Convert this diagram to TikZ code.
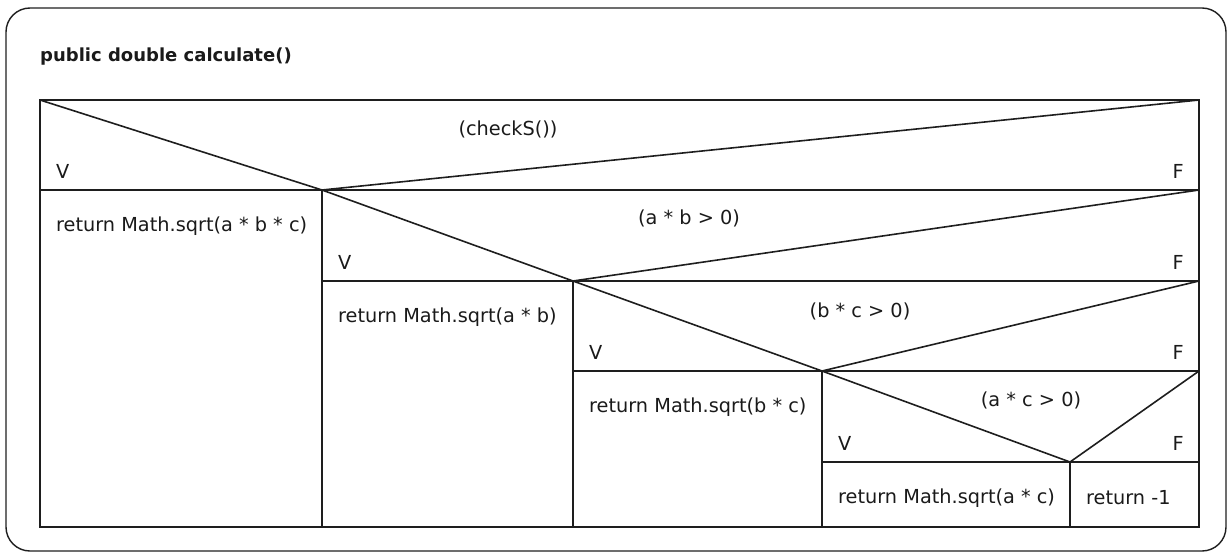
\documentclass[tikz,border=0pt]{standalone}
\usepackage{fontspec}
\setmainfont{DejaVu Sans}
\usepackage{xcolor}
\usepackage{tikz}
\definecolor{nsline}{HTML}{1E1E1E}
\definecolor{nstext}{HTML}{1A1A1A}

\begin{document}
\begin{tikzpicture}[x=1pt, y=-1pt,
  nsrule/.style={nsline, line width=1.6pt},
  nslabel/.style={inner sep=0pt, text=nstext, font=\fontsize{19.3}{22}\selectfont}]
  \useasboundingbox (0,0) rectangle (1231,556);

  % frame and title
  \draw[nsline, line width=1.4pt, rounded corners=24pt] (6,8) rectangle (1226,551);
  \node[nslabel, anchor=west, font=\bfseries\fontsize{18}{22}\selectfont] (title) at (40,57) {public double calculate()};

  % outer box
  \draw[nsrule] (40,100) rectangle (1199,527);

  % decisions: name, left, top, bottom, split, cond x, cond y, condition, return
  \foreach \nm/\xl/\yt/\yb/\xm/\cx/\cy/\cond/\ret in {%
    s/40/100/190/322/508/129/(checkS())/return Math.sqrt(a * b * c),
    ab/322/190/281/573/689/218/(a * b > 0)/return Math.sqrt(a * b),
    bc/573/281/371/822/860/311/(b * c > 0)/return Math.sqrt(b * c),
    ac/822/371/462/1070/1031/400/(a * c > 0)/return Math.sqrt(a * c)}{
      \draw[nsrule] (\xl,\yb) -- (1199,\yb);
      \draw[nsrule] (\xl,\yt) -- (\xm,\yb) -- (1199,\yt);
      \draw[nsrule] (\xm,\yb) -- (\xm,527);
      \node[nslabel] (cond-\nm) at (\cx,\cy) {\cond};
      \node[nslabel, anchor=west] (true-\nm) at (\xl+16,\yb-19) {V};
      \node[nslabel, anchor=east] (false-\nm) at (1184,\yb-19) {F};
      \node[nslabel, anchor=west] (ret-\nm) at (\xl+16,\yb+36) {\ret};
  }
  \node[nslabel, anchor=west] (ret-else) at (1086,498) {return -1};
\end{tikzpicture}
\end{document}
